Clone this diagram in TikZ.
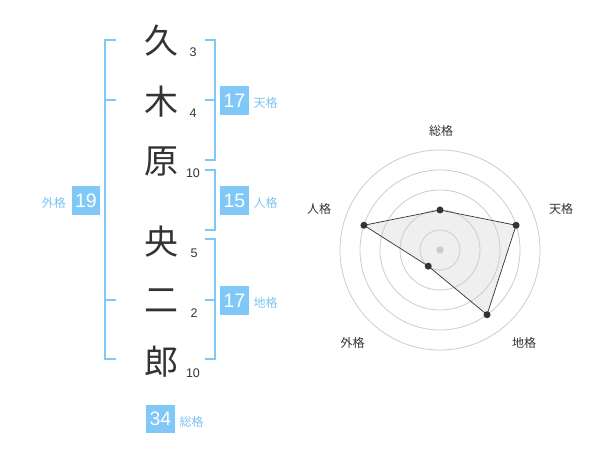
\documentclass[tikz,border=0pt]{standalone}
\usepackage{fontspec}
\setmainfont{Liberation Sans}
\newfontfamily\cjk{Noto Sans CJK JP}
\definecolor{blu}{HTML}{80C8F8}
\definecolor{blutxt}{HTML}{7CC4F0}
\definecolor{ink}{HTML}{333333}
\definecolor{ring}{HTML}{CCCCCC}
\begin{document}
\begin{tikzpicture}[x=1pt,y=-1pt,
  kanji/.style={font=\cjk\fontsize{34}{34}\selectfont, text=ink, inner sep=0pt},
  strokes/.style={font=\fontsize{12.5}{12.5}\selectfont, text=ink, inner sep=0pt},
  brk/.style={draw=blu, line width=2pt},
  numbox/.style={fill=blu, text=white, minimum width=28.5pt, minimum height=28.5pt, inner sep=0pt, font=\fontsize{19.5}{19.5}\selectfont},
  lbl/.style={font=\cjk\fontsize{12}{12}\selectfont, text=blutxt, inner sep=0pt},
  rlbl/.style={font=\cjk\fontsize{12}{12}\selectfont, text=ink, inner sep=0pt},
  dot/.style={circle, fill=ink, inner sep=0pt, minimum size=7pt}]
\useasboundingbox (0,0) rectangle (600,470);
% characters
\node[kanji] (k1) at (161,41) {久};
\node[kanji] (k2) at (161,102) {木};
\node[kanji] (k3) at (161,162) {原};
\node[kanji] (k4) at (161,242) {央};
\node[kanji] (k5) at (161,301) {二};
\node[kanji] (k6) at (161,362) {郎};
\node[strokes] (s1) at (193,52.5) {3};
\node[strokes] (s2) at (193,113) {4};
\node[strokes] (s3) at (193,173) {10};
\node[strokes] (s4) at (194,253) {5};
\node[strokes] (s5) at (194,313) {2};
\node[strokes] (s6) at (193,373) {10};
% brackets
\draw[brk] (116,40) -- (105,40) -- (105,359.5) -- (116,359.5);
\draw[brk] (105,100) -- (116,100);
\draw[brk] (105,300) -- (116,300);
\draw[brk] (204.5,40) -- (214.5,40) -- (214.5,160) -- (204.5,160);
\draw[brk] (214.5,100) -- (204.5,100);
\draw[brk] (204.5,170) -- (214.5,170) -- (214.5,230) -- (204.5,230);
\draw[brk] (204.5,239.5) -- (214.5,239.5) -- (214.5,359.5) -- (204.5,359.5);
\draw[brk] (214.5,300) -- (204.5,300);
% boxes
\node[numbox] (gai) at (86,200.5) {19};
\node[lbl, anchor=east] (gail) at (66,203) {外格};
\node[numbox] (ten) at (234.5,100.5) {17};
\node[lbl, anchor=west] (tenl) at (253.5,103) {天格};
\node[numbox] (jin) at (234.5,200.5) {15};
\node[lbl, anchor=west] (jinl) at (253.5,203) {人格};
\node[numbox] (chi) at (234.5,300.5) {17};
\node[lbl, anchor=west] (chil) at (253.5,303) {地格};
\node[numbox] (sou) at (160.5,419) {34};
\node[lbl, anchor=west] (soul) at (179.5,422) {総格};
% radar
\begin{scope}[shift={(440,250)}, y=1pt]
  \fill[ink!8] (90:40) -- (18:80) -- (-54:80) -- (-126:20) -- (162:80) -- cycle;
  \foreach \r in {20,40,60,80,100} \draw[ring, line width=0.8pt] (0,0) circle[radius=\r];
  \draw[ink, line width=0.7pt] (90:40) -- (18:80) -- (-54:80) -- (-126:20) -- (162:80) -- cycle;
  \node[circle, fill=ring, inner sep=0pt, minimum size=7.5pt] (c0) at (0,0) {};
  \node[dot] (p1) at (90:40) {};
  \node[dot] (p2) at (18:80) {};
  \node[dot] (p3) at (-54:80) {};
  \node[dot] (p4) at (-126:20) {};
  \node[dot] (p5) at (162:80) {};
\end{scope}
\node[rlbl] (r1) at (441,131) {総格};
\node[rlbl] (r2) at (561,209) {天格};
\node[rlbl] (r3) at (524,342.5) {地格};
\node[rlbl] (r4) at (352.5,342.5) {外格};
\node[rlbl] (r5) at (319,209) {人格};
\end{tikzpicture}
\end{document}
